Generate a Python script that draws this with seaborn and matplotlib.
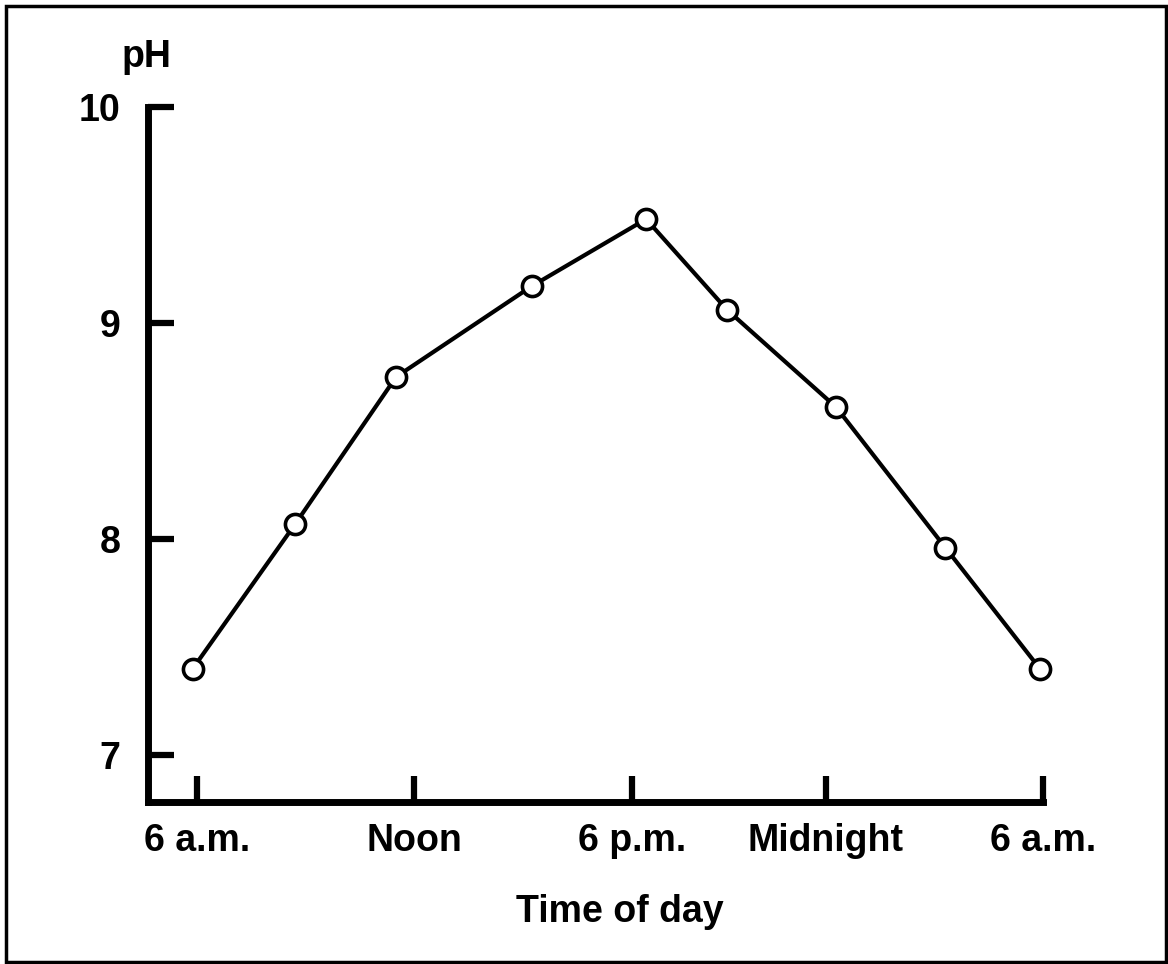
import numpy as np
import pandas as pd
import matplotlib
matplotlib.use('Agg')
import matplotlib.pyplot as plt
import matplotlib.patches as patches
import seaborn as sns

# hours after midnight (6 a.m. = 6, next 6 a.m. = 30)
hours = [5.88, 8.79, 11.65, 15.50, 18.74, 21.04, 24.13, 27.23, 29.91]
ph_values = [7.40, 8.07, 8.75, 9.17, 9.48, 9.06, 8.61, 7.96, 7.40]

tick_hours = [6, 12.16, 18.34, 23.84, 30]
tick_labels = ['6 a.m.', 'Noon', '6 p.m.', 'Midnight', '6 a.m.']
ph_ticks = [7, 8, 9, 10]

df = pd.DataFrame({'hour': hours, 'pH': ph_values})

sns.set_style('ticks')
plt.rcParams['font.family'] = ['Liberation Sans', 'DejaVu Sans']
plt.rcParams['font.weight'] = 'bold'
plt.rcParams['text.color'] = 'black'
plt.rcParams['xtick.labelcolor'] = 'black'
plt.rcParams['ytick.labelcolor'] = 'black'

fig = plt.figure(figsize=(11.68, 9.64), dpi=100)
ax = fig.add_axes([148 / 1168, 1 - 802 / 964, (1043 - 148) / 1168, (802 - 106.7) / 964])

sns.lineplot(data=df, x='hour', y='pH', sort=False, ax=ax, color='black',
             linewidth=3.0, marker='o', markersize=14.5, clip_on=False,
             markerfacecolor='white', markeredgecolor='black', markeredgewidth=2.6)

ax.set_xlim(4.61, 30.0)
ax.set_ylim(6.783, 10.0)
ax.set_xticks(tick_hours)
ax.set_xticklabels(tick_labels)
ax.set_yticks(ph_ticks)
ax.set_xlabel('')
ax.set_ylabel('')

for side in ['top', 'right']:
    ax.spines[side].set_visible(False)
for side in ['left', 'bottom']:
    ax.spines[side].set_linewidth(5)
    ax.spines[side].set_color('black')

ax.tick_params(axis='both', direction='in', length=19, width=4.5, color='black',
               labelsize=27, labelcolor='black')
ax.tick_params(axis='x', pad=15)
ax.tick_params(axis='y', pad=20)
for lbl in ax.get_xticklabels() + ax.get_yticklabels():
    lbl.set_fontweight('bold')

fig.text(146 / 1168, 1 - 67 / 964, 'pH', ha='center', va='baseline',
         fontsize=27, fontweight='bold', color='black')
fig.text(620 / 1168, 1 - 922 / 964, 'Time of day', ha='center', va='baseline',
         fontsize=27, fontweight='bold', color='black')

border = patches.Rectangle((6 / 1168, 2 / 964), 1160 / 1168, 956 / 964,
                           transform=fig.transFigure, fill=False,
                           edgecolor='black', linewidth=2.5)
fig.patches.append(border)

fig.savefig('out.png', dpi=100, facecolor='white')
